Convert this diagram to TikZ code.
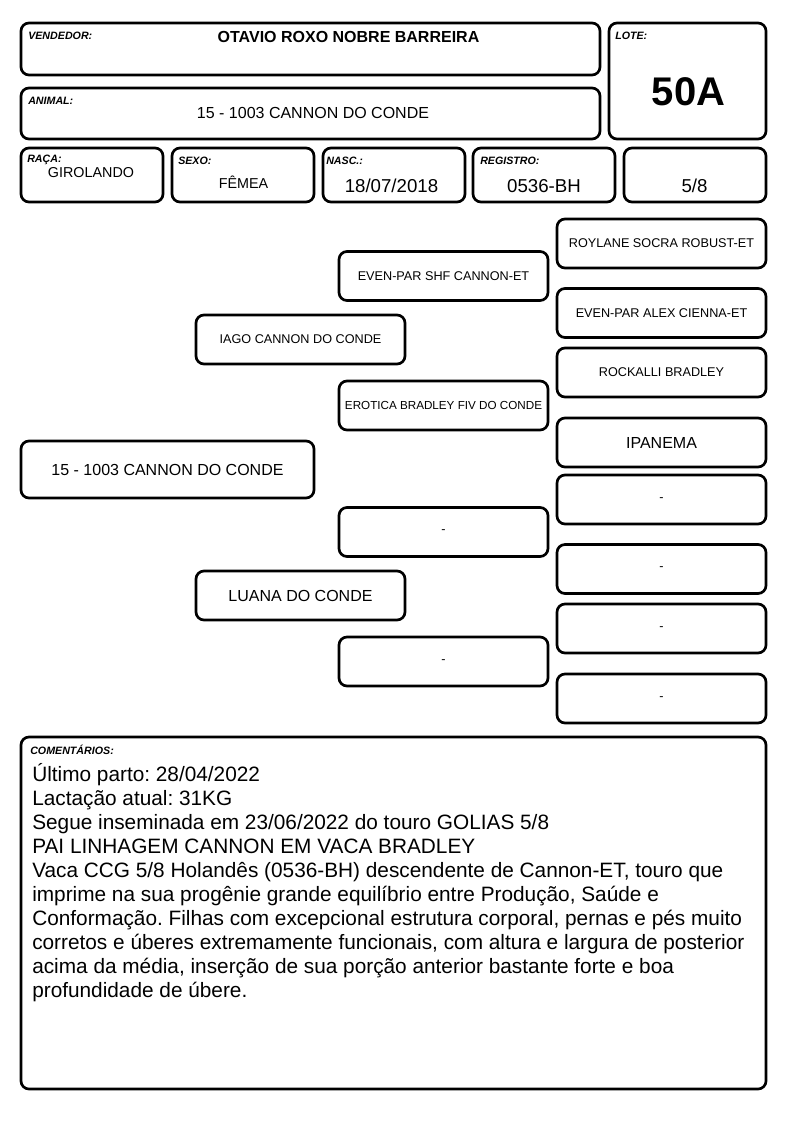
\documentclass[tikz,border=0pt]{standalone}
\usepackage{fontspec}
\setmainfont{Liberation Sans}
\usepackage{tikz}
\frenchspacing
\begin{document}
\begin{tikzpicture}[x=0.75pt,y=-0.75pt]
\tikzstyle{cell}=[draw,shape=rectangle,rounded corners=6pt,line width=2pt,inner sep=0pt]
\tikzstyle{ped}=[cell,minimum width=209*0.75pt,minimum height=49*0.75pt,font=\fontsize{9.5}{11}\selectfont]
\tikzstyle{lbl}=[inner sep=0pt,anchor=base west,font=\fontsize{8}{9}\selectfont\bfseries\itshape]
\tikzstyle{val}=[inner sep=0pt,anchor=base]
\tikzstyle{cmt}=[inner sep=0pt,anchor=base west,font=\fontsize{15.6}{18}\selectfont]

\fill[white] (0,0) rectangle (794,1123);
\useasboundingbox (0,0) rectangle (794,1123);
% header
\node[cell,minimum width=579*0.75pt,minimum height=52*0.75pt](vend) at (310.5,49){};
\node[cell,minimum width=579*0.75pt,minimum height=51*0.75pt](anml) at (310.5,113.5){};
\node[cell,minimum width=157*0.75pt,minimum height=116*0.75pt](lote) at (687.5,81){};
\node[cell,minimum width=142*0.75pt,minimum height=54*0.75pt](raca) at (92,175){};
\node[cell,minimum width=142*0.75pt,minimum height=54*0.75pt](sexo) at (243,175){};
\node[cell,minimum width=142*0.75pt,minimum height=54*0.75pt](nasc) at (394,175){};
\node[cell,minimum width=142*0.75pt,minimum height=54*0.75pt](regs) at (544,175){};
\node[cell,minimum width=142*0.75pt,minimum height=54*0.75pt](grau) at (695,175){};
%
\node[lbl](vendl) at (28,39.5){VENDEDOR:};
\node[lbl](lotel) at (615,39.5){LOTE:};
\node[lbl](anmll) at (28,104.5){ANIMAL:};
\node[lbl](racal) at (27,163){RAÇA:};
\node[lbl](sexol) at (178,164.5){SEXO:};
\node[lbl](nascl) at (326,165){NASC.:};
\node[lbl](regsl) at (480,164.5){REGISTRO:};
%
\node[val,font=\fontsize{12}{14}\selectfont\bfseries](vendv) at (348.5,43){OTAVIO ROXO NOBRE BARREIRA};
\node[val,font=\fontsize{12}{14}\selectfont](anmlv) at (313,119){15 - 1003 CANNON DO CONDE};
\node[val,font=\fontsize{30}{32}\selectfont\bfseries](lotev) at (688.5,105.5){50A};
\node[val,font=\fontsize{10.75}{12}\selectfont](racav) at (91,178){GIROLANDO};
\node[val,font=\fontsize{10.75}{12}\selectfont](sexov) at (243.5,189){FÊMEA};
\node[val,font=\fontsize{14}{16}\selectfont](nascv) at (391.5,193){18/07/2018};
\node[val,font=\fontsize{14}{16}\selectfont](regsv) at (544,193){0536-BH};
\node[val,font=\fontsize{14}{16}\selectfont](grauv) at (694.5,193){5/8};
% pedigree
\node[cell,minimum width=293*0.75pt,minimum height=57*0.75pt,font=\fontsize{12}{14}\selectfont](anim) at (167.5,469.5){15 - 1003 CANNON DO CONDE};
\node[ped](p) at (300.5,339.5){IAGO CANNON DO CONDE};
\node[ped,font=\fontsize{12}{14}\selectfont](m) at (300.5,595.5){LUANA DO CONDE};
%
\node[ped](pp) at (443.5,276){EVEN-PAR SHF CANNON-ET};
\node[ped,font=\fontsize{8.75}{10}\selectfont](pm) at (443.5,405.5){EROTICA BRADLEY FIV DO CONDE};
\node[ped](mp) at (443.5,532){-};
\node[ped](mm) at (443.5,661.5){-};
%
\node[ped](ppp) at (661.5,243.5){ROYLANE SOCRA ROBUST-ET};
\node[ped](ppm) at (661.5,313){EVEN-PAR ALEX CIENNA-ET};
\node[ped](pmp) at (661.5,372.5){ROCKALLI BRADLEY};
\node[ped,font=\fontsize{12}{14}\selectfont](pmm) at (661.5,442.5){IPANEMA};
\node[ped](mpp) at (661.5,499.5){-};
\node[ped](mpm) at (661.5,569){-};
\node[ped](mmp) at (661.5,628.5){-};
\node[ped](mmm) at (661.5,698.5){-};
% comments
\node[cell,minimum width=745*0.75pt,minimum height=352*0.75pt](coms) at (393.5,913){};
\node[lbl](comsl) at (30,754.5){COMENTÁRIOS:};
\foreach \txt [count=\i from 0] in {{Último parto: 28/04/2022},{Lactação atual: 31KG},{Segue inseminada em 23/06/2022 do touro GOLIAS 5/8},{PAI LINHAGEM CANNON EM VACA BRADLEY},{Vaca CCG 5/8 Holandês (0536-BH) descendente de Cannon-ET, touro que},{imprime na sua progênie grande equilíbrio entre Produção, Saúde e},{Conformação. Filhas com excepcional estrutura corporal, pernas e pés muito},{corretos e úberes extremamente funcionais, com altura e largura de posterior},{acima da média, inserção de sua porção anterior bastante forte e boa},{profundidade de úbere.}}
  \node[cmt](cl\i) at (32,781+24*\i){\txt};
\end{tikzpicture}
\end{document}
